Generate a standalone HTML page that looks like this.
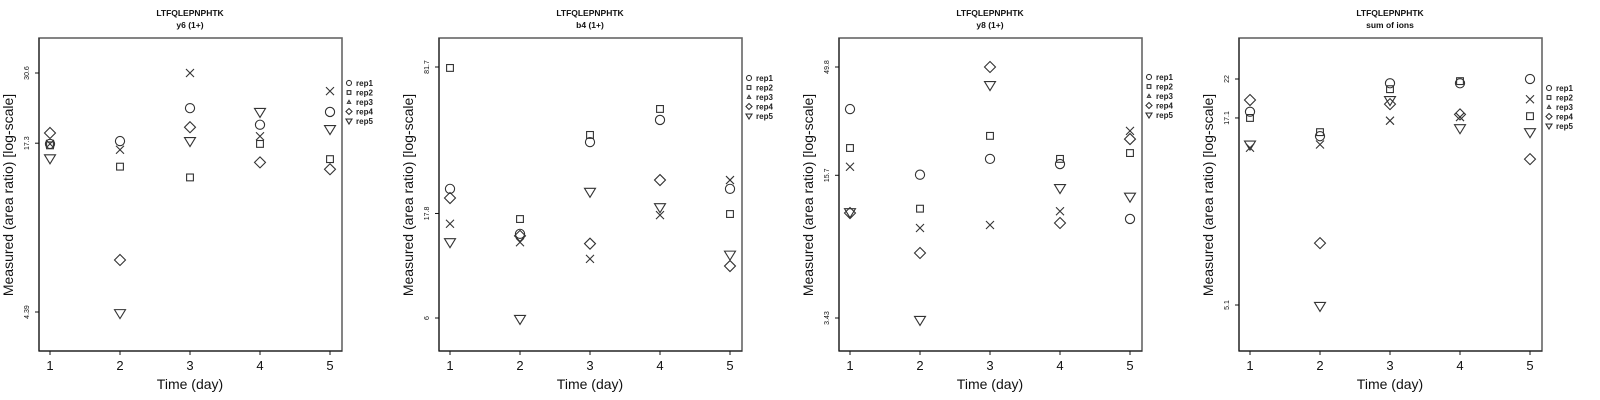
<!DOCTYPE html>
<html><head><meta charset="utf-8">
<style>
html,body{margin:0;padding:0;background:#fff;}
svg{display:block;font-family:"Liberation Sans",Arial,sans-serif;}
</style></head>
<body>
<svg id="chart" width="1600" height="400" viewBox="0 0 1600 400" xmlns="http://www.w3.org/2000/svg"></svg>
<script>
// ---- data ----
const days = [1, 2, 3, 4, 5];
const reps = ["rep1", "rep2", "rep3", "rep4", "rep5"];
const panelTitles = ["y6 (1+)", "b4 (1+)", "y8 (1+)", "sum of ions"];
const peptide = "LTFQLEPNPHTK";
const tickLabelsP1 = ["30.6", "17.3", "4.39"];
const tickLabelsP2 = ["81.7", "17.8", "6"];
const tickLabelsP3 = ["49.8", "15.7", "3.43"];
const tickLabelsP4 = ["22", "17.1", "5.1"];
// values per rep across days
const p1rep1 = [17.2, 17.6, 23.0, 20.1, 22.3];
const p1rep2 = [17.0, 14.3, 13.1, 17.2, 15.2];
const p1rep3 = [17.2, 16.4, 30.6, 18.3, 26.4];
const p1rep4 = [18.8, 6.70, 19.7, 14.8, 14.0];
const p1rep5 = [15.3, 4.35, 17.6, 22.3, 19.4];
const p2rep1 = [23.0, 14.4, 37.4, 47.1, 23.0];
const p2rep2 = [80.9, 16.8, 40.3, 52.8, 17.7];
const p2rep3 = [16.0, 13.2, 11.1, 17.5, 25.2];
const p2rep4 = [20.9, 14.1, 13.0, 25.2, 10.3];
const p2rep5 = [13.2, 5.94, 22.3, 19.0, 11.6];
const p3rep1 = [31.8, 15.8, 18.7, 17.7, 9.86];
const p3rep2 = [21.0, 11.0, 23.9, 18.7, 19.9];
const p3rep3 = [17.2, 8.95, 9.24, 10.7, 25.2];
const p3rep4 = [10.5, 6.86, 49.8, 9.44, 23.1];
const p3rep5 = [10.6, 3.36, 41.1, 13.7, 12.5];
const p4rep1 = [17.8, 15.2, 21.4, 21.4, 22.0];
const p4rep2 = [17.1, 15.6, 20.6, 21.7, 17.3];
const p4rep3 = [14.1, 14.4, 16.8, 17.2, 19.3];
const p4rep4 = [19.2, 7.61, 18.7, 17.5, 13.1];
const p4rep5 = [14.4, 5.07, 19.2, 16.0, 15.6];

// ---- layout (scale config) ----
const panels = [
  {off:0, ticks:tickLabelsP1, tpx:[73,143,312], series:[p1rep1,p1rep2,p1rep3,p1rep4,p1rep5], legY:83},
  {off:400, ticks:tickLabelsP2, tpx:[67,214,318], series:[p2rep1,p2rep2,p2rep3,p2rep4,p2rep5], legY:78},
  {off:800, ticks:tickLabelsP3, tpx:[67,176,318], series:[p3rep1,p3rep2,p3rep3,p3rep4,p3rep5], legY:77},
  {off:1200, ticks:tickLabelsP4, tpx:[79,118,305], series:[p4rep1,p4rep2,p4rep3,p4rep4,p4rep5], legY:88}
];
const NS = "http://www.w3.org/2000/svg";
const svg = document.getElementById("chart");
const STROKE = "#333";
function mk(tag, attrs, parent){
  const e = document.createElementNS(NS, tag);
  for (const k in attrs) e.setAttribute(k, attrs[k]);
  (parent||svg).appendChild(e);
  return e;
}
function marker(g, kind, x, y, s){
  const st = {fill:"none", stroke:STROKE, "stroke-width":1.1};
  let e;
  if (kind===0) e = mk("circle", Object.assign({cx:x, cy:y, r:4.6*s}, st), g);
  else if (kind===1) e = mk("rect", Object.assign({x:x-3.4*s, y:y-3.4*s, width:6.8*s, height:6.8*s}, st), g);
  else if (kind===2) e = mk("path", Object.assign({d:`M${x-4*s},${y-4*s}L${x+4*s},${y+4*s}M${x+4*s},${y-4*s}L${x-4*s},${y+4*s}`}, st), g);
  else if (kind===3) e = mk("path", Object.assign({d:`M${x},${y-5.5*s}L${x+5.5*s},${y}L${x},${y+5.5*s}L${x-5.5*s},${y}Z`}, st), g);
  else if (kind===4) e = mk("path", Object.assign({d:`M${x-5.5*s},${y-3.5*s}L${x+5.5*s},${y-3.5*s}L${x},${y+5.5*s}Z`}, st), g);
  else e = mk("path", Object.assign({d:`M${x-3*s},${y+2.5*s}L${x+3*s},${y+2.5*s}L${x},${y-3*s}Z`}, st), g);
  return e;
}
panels.forEach((p, pi) => {
  const o = p.off;
  const g = mk("g", {});
  
  
  // log y scale from first and last tick
  const v0 = Math.log(parseFloat(p.ticks[0])), v1 = Math.log(parseFloat(p.ticks[2]));
  const yS = v => p.tpx[0] + (Math.log(v) - v0) / (v1 - v0) * (p.tpx[2] - p.tpx[0]);
  const xS = d => o + 50 + (d - 1) * 70;
  // titles
  const t1 = mk("text", {x:o+190, y:16, "text-anchor":"middle", "font-size":8.5, "font-weight":"bold", fill:"#111"}, g);
  t1.textContent = peptide;
  
  
  const t2 = mk("text", {x:o+190, y:28, "text-anchor":"middle", "font-size":8.5, "font-weight":"bold", fill:"#111"}, g);
  t2.textContent = panelTitles[pi];
  
  
  // box
  const box = mk("rect", {x:o+39, y:38, width:303, height:313, fill:"none", stroke:"#666", "stroke-width":1.6}, g);
  
  
  mk("line", {x1:o+39, y1:351, x2:o+342, y2:351, stroke:"#111", "stroke-width":1}, g);
  mk("line", {x1:o+39, y1:38, x2:o+39, y2:351, stroke:"#111", "stroke-width":1}, g);
  // y ticks
  p.ticks.forEach((lab) => {
    const y = yS(parseFloat(lab));
    mk("line", {x1:o+35, y1:y, x2:o+39, y2:y, stroke:"#111"}, g);
    const t = mk("text", {x:o+29, y:y, "text-anchor":"middle", "font-size":7, fill:"#111", transform:`rotate(-90 ${o+29} ${y})`}, g);
    t.textContent = lab;
    
    
  });
  // x ticks
  days.forEach(d => {
    const x = xS(d);
    mk("line", {x1:x, y1:351, x2:x, y2:355, stroke:"#111"}, g);
    const t = mk("text", {x:x, y:370, "text-anchor":"middle", "font-size":13, fill:"#111"}, g);
    t.textContent = d;
    
    
  });
  const xt = mk("text", {x:o+190, y:389, "text-anchor":"middle", "font-size":14, fill:"#111"}, g);
  xt.textContent = "Time (day)";
  
  
  const yx = o + 13, yy = 195;
  const yt = mk("text", {x:yx, y:yy, "text-anchor":"middle", "font-size":14, fill:"#111", transform:`rotate(-90 ${yx} ${yy})`}, g);
  yt.textContent = "Measured (area ratio) [log-scale]";
  
  
  // points
  p.series.forEach((vals, ri) => {
    vals.forEach((v, di) => {
      const m = marker(g, ri, xS(days[di]), yS(v), 1);
      
      
    });
  });
  // legend
  const legKinds = [0, 1, 5, 3, 4];
  reps.forEach((r, ri) => {
    const ly = p.legY + ri * 9.5;
    const lg = mk("g", {}, g);
    
    
    marker(lg, legKinds[ri], o + 349, ly, 0.55);
    const t = mk("text", {x:o+356, y:ly+3, "font-size":8, "font-weight":"bold", fill:"#222"}, lg);
    t.textContent = r;
  });
});
</script>
</body></html>
